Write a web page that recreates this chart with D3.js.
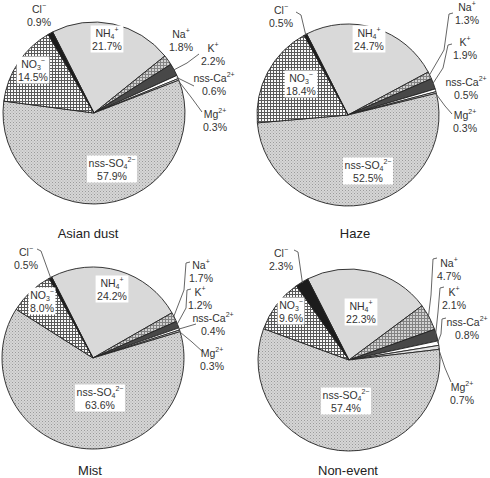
<!DOCTYPE html>
<html>
<head>
<script src="https://d3js.org/d3.v7.min.js" charset="utf-8"></script>
</head>
<body>
<div id="chart"></div>

<style>
    body {margin:0;background:#fff;}
    text {font-family:"Liberation Sans", Arial, sans-serif;}
</style>

<script>

const width = 490, height = 478;

// slice order, clockwise from the NH4 wedge
const ions = ["NH4", "Na", "K", "Ca", "Mg", "SO4", "NO3", "Cl"];
const titles = ["Asian dust", "Haze", "Mist", "Non-event"];
const asianDust = [21.7, 1.8, 2.2, 0.6, 0.3, 57.9, 14.5, 0.9];
const haze      = [24.7, 1.3, 1.9, 0.5, 0.3, 52.5, 18.4, 0.5];
const mist      = [24.2, 1.7, 1.2, 0.4, 0.3, 63.6, 8.0, 0.5];
const nonEvent  = [22.3, 4.7, 2.1, 0.8, 0.7, 57.4, 9.6, 2.3];
const series = [asianDust, haze, mist, nonEvent];

// label text pieces: [text, shift] shift 0 normal, -1 sub, 1 sup
const names = {
    NH4: [["NH",0],["4",-1],["+",1]],
    Na:  [["Na",0],["+",1]],
    K:   [["K",0],["+",1]],
    Ca:  [["nss-Ca",0],["2+",1]],
    Mg:  [["Mg",0],["2+",1]],
    SO4: [["nss-SO",0],["4",-1],["2\u2212",1]],
    NO3: [["NO",0],["3",-1],["\u2212",1]],
    Cl:  [["Cl",0],["\u2212",1]]
};
const boxed = ["NH4", "NO3", "SO4"];

// layout of each panel (pixels)
const layout = [
  { cx: 94, cy: 113, title: [88, 233],
    labels: {Cl:[39,9], NH4:[107,33], Na:[181,34], K:[213,48], Ca:[214,78], Mg:[215,114], NO3:[33,64], SO4:[112,163]},
    leaders: {K:[[199,54],[187,63]], Ca:[[194,86]], Mg:[[202,112],[191,97]]} },
  { cx: 348, cy: 115, title: [355, 233],
    labels: {Cl:[281,10], NH4:[369,33], Na:[467,7], K:[465,42], Ca:[466,82], Mg:[465,115], NO3:[301,78], SO4:[368,165]},
    leaders: {Cl:[[296,12],[301,15]], Na:[[453,13],[449,14],[444,50]], K:[[452,44],[448,45],[443,68]], Mg:[[452,114],[445,106]]} },
  { cx: 93, cy: 358, title: [90, 470],
    labels: {Cl:[26,252], NH4:[112,283], Na:[201,265], K:[200,292], Ca:[213,318], Mg:[212,353], NO3:[42,295], SO4:[100,392]},
    leaders: {Cl:[[37,249],[41,251]], Na:[[190,262],[186,263],[184,290]], K:[[191,289],[187,290],[186,308]], Ca:[[196,324]], Mg:[[203,352],[192,342]]} },
  { cx: 349, cy: 360, title: [348, 470],
    labels: {Cl:[281,253], NH4:[361,306], Na:[449,263], K:[454,292], Ca:[467,322], Mg:[462,387], NO3:[291,305], SO4:[346,395]},
    leaders: {Cl:[[294,250],[298,252]], Na:[[437,258],[433,259],[431,295]], K:[[444,287],[440,288],[438,312]], Ca:[[446,318],[442,319],[441,334]], Mg:[[451,382],[445,368]]} }
];

const r = 91;
const startAngle = -27 * Math.PI / 180;

const svg = d3.select("#chart").append("svg")
    .attr("width", width)
    .attr("height", height);

// fill textures
const defs = svg.append("defs");

const dots = defs.append("pattern").attr("id", "p-so4")
    .attr("patternUnits", "userSpaceOnUse").attr("width", 3).attr("height", 3);
dots.append("rect").attr("width", 3).attr("height", 3).attr("fill", "#d6d6d6");
dots.append("rect").attr("x", 0).attr("y", 0).attr("width", 1).attr("height", 1).attr("fill", "#9a9a9a");
dots.append("rect").attr("x", 1.5).attr("y", 1.5).attr("width", 1).attr("height", 1).attr("fill", "#acacac");

const grid = defs.append("pattern").attr("id", "p-no3")
    .attr("patternUnits", "userSpaceOnUse").attr("width", 3).attr("height", 3);
grid.append("rect").attr("width", 3).attr("height", 3).attr("fill", "#fafafa");
grid.append("rect").attr("width", 3).attr("height", 1).attr("fill", "#5a5a5a");
grid.append("rect").attr("width", 1).attr("height", 3).attr("fill", "#5a5a5a");

const grid2 = defs.append("pattern").attr("id", "p-na")
    .attr("patternUnits", "userSpaceOnUse").attr("width", 3).attr("height", 3);
grid2.append("rect").attr("width", 3).attr("height", 3).attr("fill", "#d2d2d2");
grid2.append("rect").attr("width", 3).attr("height", 1).attr("fill", "#828282");
grid2.append("rect").attr("width", 1).attr("height", 3).attr("fill", "#828282");

const fills = {
    NH4: "#d9d9d9", Na: "url(#p-na)", K: "#484848", Ca: "#ffffff",
    Mg: "#e4e4e4", SO4: "url(#p-so4)", NO3: "url(#p-no3)", Cl: "#1c1c1c"
};

const pie = d3.pie()
    .sort(null)
    .value(d => d.value)
    .startAngle(startAngle)
    .endAngle(startAngle + 2 * Math.PI);

const arc = d3.arc().innerRadius(0).outerRadius(r);

function writeName(sel, key) {
    names[key].forEach(([t, s]) => {
        const ts = sel.append("tspan").text(t);
        if (s === -1) ts.attr("font-size", "7px").attr("baseline-shift", "-2px");
        if (s === 1) ts.attr("font-size", "7px").attr("baseline-shift", "5px");
    });
}

series.forEach((vals, i) => {
    const L = layout[i];
    const data = ions.map((k, j) => ({key: k, value: vals[j]}));
    const arcs = pie(data);

    const g = svg.append("g").attr("transform", `translate(${L.cx},${L.cy})`);
    g.selectAll("path")
        .data(arcs)
        .join("path")
        .attr("d", arc)
        .attr("fill", d => fills[d.data.key])
        .attr("stroke", "#222")
        .attr("stroke-width", 0.9)
        .attr("stroke-linejoin", "round");

    // leader lines out to the slice rim
    const line = d3.line();
    arcs.forEach(a => {
        const pts = L.leaders[a.data.key];
        if (!pts) return;
        const m = (a.startAngle + a.endAngle) / 2;
        const end = [L.cx + (r - 1) * Math.sin(m), L.cy - (r - 1) * Math.cos(m)];
        svg.append("path")
            .attr("d", line(pts.concat([end])))
            .attr("fill", "none")
            .attr("stroke", "#555")
            .attr("stroke-width", 0.9);
    });

    // labels
    arcs.forEach(a => {
        const k = a.data.key;
        const [x, y] = L.labels[k];
        const lg = svg.append("g");
        const t1 = lg.append("text")
            .attr("x", x).attr("y", y + 4)
            .attr("text-anchor", "middle")
            .attr("font-size", "10.5px")
            .attr("fill", "#333");
        writeName(t1, k);
        lg.append("text")
            .attr("x", x).attr("y", y + 17)
            .attr("text-anchor", "middle")
            .attr("font-size", "10.5px")
            .attr("fill", "#333")
            .text(d3.format(".1f")(a.data.value) + "%");
        if (boxed.includes(k)) {
            const b = lg.node().getBBox();
            lg.insert("rect", ":first-child")
                .attr("x", b.x - 1.5).attr("y", b.y - 0.5)
                .attr("width", b.width + 3).attr("height", b.height + 1)
                .attr("fill", "#fff");
        }
    });

    svg.append("text")
        .attr("x", L.title[0]).attr("y", L.title[1] + 5)
        .attr("text-anchor", "middle")
        .attr("font-size", "13px")
        .attr("fill", "#222")
        .text(titles[i]);
});

</script>
</body>
</html>
